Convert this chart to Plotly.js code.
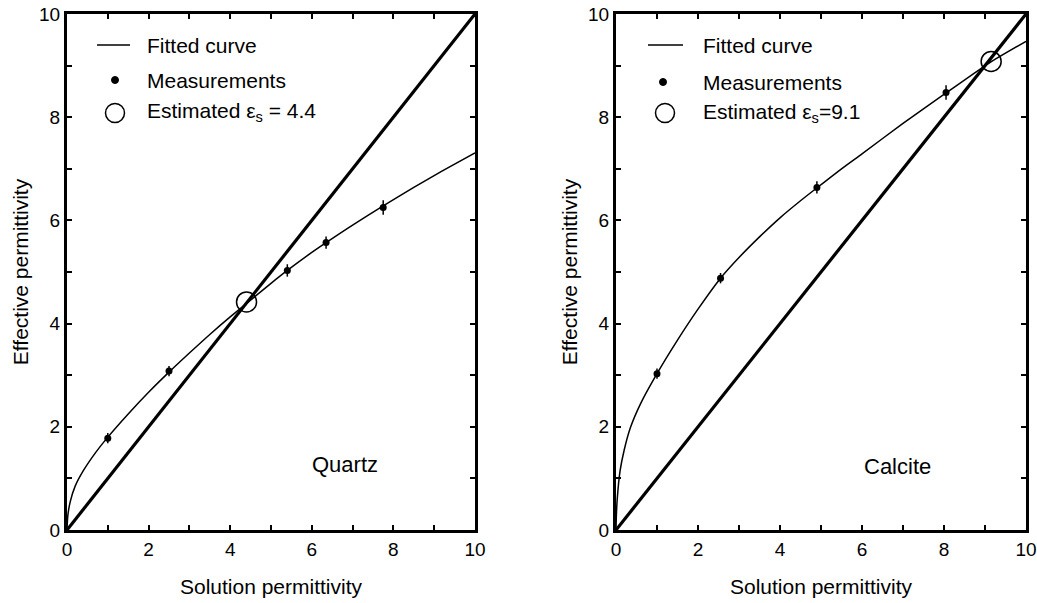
<!DOCTYPE html>
<html><head><meta charset="utf-8">
<script src="https://cdn.plot.ly/plotly-3.0.1.min.js"></script>
<style>html,body{margin:0;padding:0;background:#fff}</style>
</head><body><div id="chart" style="width:1037px;height:603px"></div>
<script>
// ---- Data ----
const identityX = [0, 10];
const identityY = [0, 10];

const quartzFitX = [0, 0.02, 0.08, 0.2, 0.4, 0.7, 1.0, 1.5, 2.0, 2.5, 3.0, 3.5, 4.0, 4.4, 5.0, 5.4, 6.0, 6.35, 7.0, 7.75, 8.5, 9.2, 10];
const quartzFitY = [0, 0.28, 0.55, 0.85, 1.15, 1.5, 1.8, 2.25, 2.67, 3.06, 3.43, 3.79, 4.13, 4.39, 4.78, 5.03, 5.38, 5.57, 5.91, 6.28, 6.64, 6.96, 7.31];
const quartzMeasX = [1.0, 2.5, 5.4, 6.35, 7.75];
const quartzMeasY = [1.78, 3.08, 5.03, 5.57, 6.25];
const quartzMeasErr = [0.1, 0.1, 0.12, 0.12, 0.14];
const quartzEstX = [4.4];
const quartzEstY = [4.42];

const calciteFitX = [0, 0.01, 0.03, 0.1, 0.2, 0.35, 0.6, 1.0, 1.5, 2.0, 2.55, 3.0, 3.5, 4.0, 4.5, 4.9, 5.5, 6.0, 7.0, 8.05, 9.1, 10];
const calciteFitY = [0, 0.3, 0.6, 1.15, 1.55, 1.98, 2.45, 3.03, 3.68, 4.28, 4.88, 5.28, 5.68, 6.05, 6.38, 6.63, 7.0, 7.29, 7.88, 8.47, 9.05, 9.47];
const calciteMeasX = [1.0, 2.55, 4.9, 8.05];
const calciteMeasY = [3.03, 4.88, 6.64, 8.48];
const calciteMeasErr = [0.1, 0.1, 0.12, 0.14];
const calciteEstX = [9.15];
const calciteEstY = [9.08];

const minorTickVals = [0, 1, 2, 3, 4, 5, 6, 7, 8, 9, 10];
const minorTickText = ['0', '', '2', '', '4', '', '6', '', '8', '', '10'];
const majorTickVals = [0, 2, 4, 6, 8, 10];

const xTitle = 'Solution permittivity';
const yTitle = 'Effective permittivity';
const legendTexts = ['Fitted curve', 'Measurements'];
const quartzEstText = 'Estimated \u03b5<sub>s</sub> = 4.4';
const calciteEstText = 'Estimated \u03b5<sub>s</sub>=9.1';
const mineralNames = ['Quartz', 'Calcite'];

// ---- Figure ----
const W = 1037, H = 603, T = 14, B = 73;
const FONT = 'Liberation Sans, Arial, Helvetica, sans-serif';
const px = x => x / W;
const py = y => (H - B - y) / (H - T - B);

function panel(fx, fy, mx, my, merr, ex, ey, xa, ya) {
  return [
    {x: identityX, y: identityY, xaxis: xa, yaxis: ya, mode: 'lines', line: {color: '#000', width: 3.2}, hoverinfo: 'skip'},
    {x: fx, y: fy, xaxis: xa, yaxis: ya, mode: 'lines', line: {color: '#000', width: 1.5, shape: 'spline', smoothing: 0.6}, hoverinfo: 'skip'},
    {x: mx, y: my, xaxis: xa, yaxis: ya, mode: 'markers', marker: {color: '#000', size: 7, symbol: 'circle'},
     error_y: {type: 'data', array: merr, visible: true, color: '#000', thickness: 1.5, width: 0}},
    {x: ex, y: ey, xaxis: xa, yaxis: ya, mode: 'markers', marker: {color: '#000', size: 20, symbol: 'circle-open', line: {color: '#000', width: 1.5}}}
  ];
}

const data = [
  ...panel(quartzFitX, quartzFitY, quartzMeasX, quartzMeasY, quartzMeasErr, quartzEstX, quartzEstY, 'x', 'y'),
  ...panel(calciteFitX, calciteFitY, calciteMeasX, calciteMeasY, calciteMeasErr, calciteEstX, calciteEstY, 'x2', 'y2')
];

// base axis: all integer ticks (short), labels on even values
function axis(extra) {
  return Object.assign({
    range: [0, 10], tickmode: 'array', tickvals: minorTickVals, ticktext: minorTickText,
    showline: true, linewidth: 3, linecolor: '#000', mirror: 'ticks',
    ticks: 'inside', ticklen: 5, tickwidth: 2, tickcolor: '#000',
    showgrid: false, zeroline: false, automargin: false, fixedrange: true,
    tickfont: {family: FONT, size: 19, color: '#000'}
  }, extra);
}
// overlay axis: long ticks on even values
function majorAxis(extra) {
  return Object.assign({
    range: [0, 10], tickmode: 'array', tickvals: majorTickVals, showticklabels: false,
    showline: false, mirror: 'ticks', ticks: 'inside', ticklen: 10, tickwidth: 2, tickcolor: '#000',
    showgrid: false, zeroline: false, automargin: false, fixedrange: true
  }, extra);
}

const legendFont = {family: FONT, size: 21, color: '#000'};
const annotations = [];
const shapes = [];
function legend(lineX0, lineX1, lineY, dotX, dotY, circX, circY, textX, textYs, estText) {
  shapes.push({type: 'line', xref: 'paper', yref: 'paper', x0: px(lineX0), x1: px(lineX1), y0: py(lineY), y1: py(lineY), line: {color: '#000', width: 1.6}});
  shapes.push({type: 'circle', xref: 'paper', yref: 'paper', xsizemode: 'pixel', ysizemode: 'pixel',
    xanchor: px(dotX), yanchor: py(dotY), x0: -3.5, x1: 3.5, y0: -3.5, y1: 3.5, fillcolor: '#000', line: {color: '#000', width: 1}});
  shapes.push({type: 'circle', xref: 'paper', yref: 'paper', xsizemode: 'pixel', ysizemode: 'pixel',
    xanchor: px(circX), yanchor: py(circY), x0: -9.5, x1: 9.5, y0: -9.5, y1: 9.5, line: {color: '#000', width: 1.5}});
  const texts = [legendTexts[0], legendTexts[1], estText];
  texts.forEach((t, i) => annotations.push({text: t, xref: 'paper', yref: 'paper', x: px(textX), y: py(textYs[i]),
    xanchor: 'left', yanchor: 'middle', showarrow: false, font: legendFont}));
}
legend(97, 130, 45, 115, 80, 115, 113, 145, [45, 80, 112], quartzEstText);
legend(648, 683, 45, 663, 82, 665, 113, 701, [45, 82, 113], calciteEstText);

annotations.push({text: mineralNames[0], xref: 'x', yref: 'y', x: 5.96, y: 1.26, xanchor: 'left', yanchor: 'middle', showarrow: false, font: {family: FONT, size: 22, color: '#000'}});
annotations.push({text: mineralNames[1], xref: 'x2', yref: 'y2', x: 6.0, y: 1.24, xanchor: 'left', yanchor: 'middle', showarrow: false, font: {family: FONT, size: 22, color: '#000'}});

const titleFont = {family: FONT, size: 21, color: '#000'};
const layout = {
  width: W, height: H, margin: {l: 0, r: 0, t: T, b: B, pad: 0},
  paper_bgcolor: '#fff', plot_bgcolor: '#fff', showlegend: false,
  xaxis: axis({domain: [67 / W, 475 / W], anchor: 'y', title: {text: xTitle, font: titleFont, standoff: 21}}),
  yaxis: axis({domain: [0, 1], anchor: 'x', title: {text: yTitle, font: titleFont, standoff: 5}}),
  xaxis2: axis({domain: [616 / W, 1026 / W], anchor: 'y2', title: {text: xTitle, font: titleFont, standoff: 21}}),
  yaxis2: axis({domain: [0, 1], anchor: 'x2', title: {text: yTitle, font: titleFont, standoff: 5}}),
  xaxis3: majorAxis({overlaying: 'x', anchor: 'y'}),
  yaxis3: majorAxis({overlaying: 'y', anchor: 'x'}),
  xaxis4: majorAxis({overlaying: 'x2', anchor: 'y2'}),
  yaxis4: majorAxis({overlaying: 'y2', anchor: 'x2'}),
  annotations: annotations, shapes: shapes
};

Plotly.newPlot('chart', data, layout, {displayModeBar: false, staticPlot: true});
</script>
</body></html>
